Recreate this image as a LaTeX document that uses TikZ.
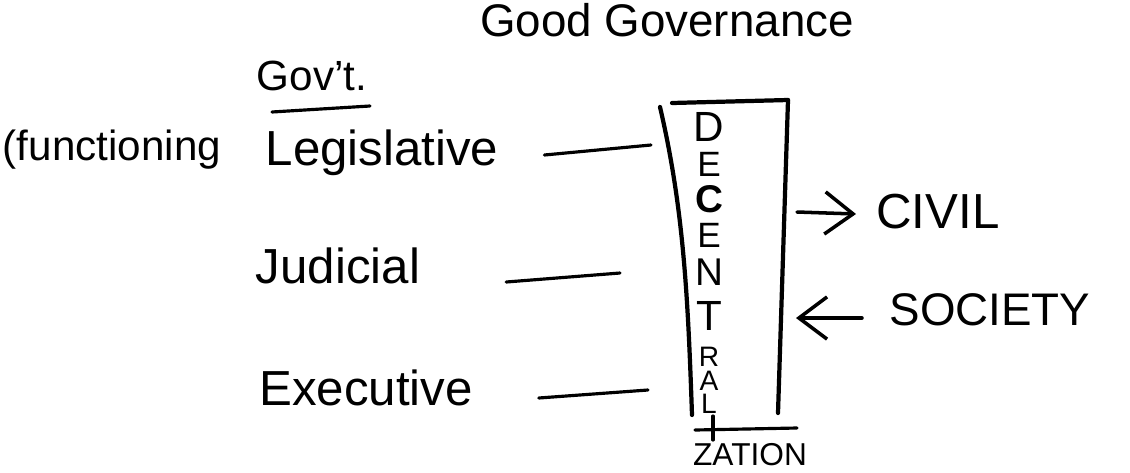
\documentclass[tikz,border=0pt]{standalone}
\usepackage{fontspec}
\setmainfont{Liberation Sans}
\usetikzlibrary{arrows.meta,positioning}

\begin{document}
\begin{tikzpicture}[x=0.01cm,y=-0.01cm,semithick,
	hand/.style={inner sep=0pt,font=\fontsize{14}{16}\selectfont},
	small/.style={inner sep=0pt,font=\fontsize{10}{12}\selectfont},
	link/.style={line width=0.9pt,line cap=round},
	col/.style={line width=1.2pt,line cap=round},
	flow/.style={line width=1pt,line cap=round,-{Straight Barb[length=8pt,width=12pt]}}]
	\useasboundingbox (0,0) rectangle (1130,472);

	% titles
	\node	[hand,font=\fontsize{13}{15}\selectfont]	(good)	at (667,20)		{Good Governance};
	\node	[hand,font=\fontsize{12}{14}\selectfont]	(gov)	at (312,76)		{Gov't.};
	\draw	[link]	(gov.south) ++(-40,20) -- ++(98,-6);

	% branches
	\node	[hand,font=\fontsize{12}{14}\selectfont]	(fun)	at (112,150)	{(functioning};
	\node	[hand]	(leg)	at (382,153)	{Legislative};
	\node	[hand]	(jud)	at (338,266)	{Judicial};
	\node	[hand]	(exe)	at (366,388)	{Executive};

	% the column
	\coordinate	(tl)	at (660,107);
	\coordinate	(bl)	at (692,415);
	\coordinate	(tr)	at (788,100);
	\coordinate	(br)	at (778,413);
	\draw	[col]	(tl) .. controls (684,210) and (688,300) .. (bl);
	\draw	[col]	(672,103) -- (tr);
	\draw	[col]	(tr) -- (br);
	\draw	[link]	(695,430) -- (797,428);
	\draw	[link]	(713,416) -- (713,440);
	\foreach \c/\y/\s in {D/127/12,E/164/10,{\bfseries C}/199/11,E/235/10,N/272/11,T/316/12,R/357/8,A/381/8,L/404/8}
		\node	[inner sep=0pt,font=\fontsize{\s}{\s}\selectfont]	at (709,\y)	{\c};
	\node	[small,font=\fontsize{9}{11}\selectfont]	(zat)	at (750,455)	{ZATION};

	% links into the column
	\coordinate	(l1)	at (651,145);
	\coordinate	(l2)	at (620,273);
	\coordinate	(l3)	at (648,390);
	\draw	[link]	(leg.east) ++(45,2) -- (l1);
	\draw	[link]	(jud.east) ++(85,16) -- (l2);
	\draw	[link]	(exe.east) ++(65,10) -- (l3);

	% civil society
	\node	[hand,font=\fontsize{14}{16}\selectfont]	(civ)	at (938,212)	{CIVIL};
	\node	[hand,font=\fontsize{13}{15}\selectfont]	(soc)	at (990,310)	{SOCIETY};
	\coordinate	(out)	at (797,212);
	\coordinate	(in)	at (796,318);
	\draw	[flow]	(out) -- (856,214);
	\draw	[flow]	(in) ++(66,0) -- (in);
\end{tikzpicture}
\end{document}
